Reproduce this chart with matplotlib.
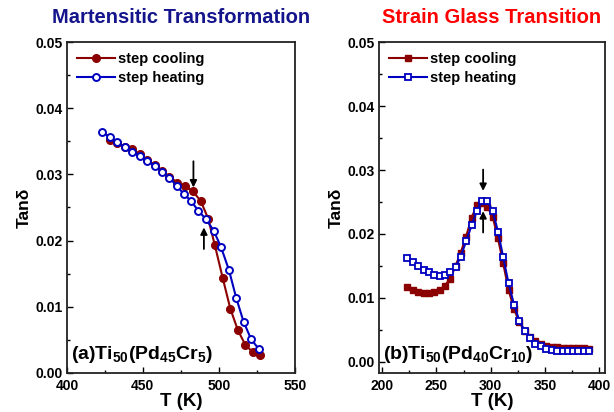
import numpy as np
import matplotlib
matplotlib.use('Agg')
import matplotlib.pyplot as plt
from matplotlib.ticker import MultipleLocator

plt.rcParams['font.family'] = ['Liberation Sans', 'DejaVu Sans']
plt.rcParams['font.weight'] = 'bold'
plt.rcParams['mathtext.fontset'] = 'custom'
plt.rcParams['mathtext.rm'] = 'Liberation Sans:bold'
plt.rcParams['mathtext.bf'] = 'Liberation Sans:bold'
plt.rcParams['mathtext.default'] = 'bf'

# (a) Ti50(Pd45Cr5) -- martensitic transformation
Ta_cool = [428.3, 433.0, 438.0, 442.8, 447.8, 452.8, 457.8, 462.6, 467.4, 472.8,
           477.8, 482.8, 488.0, 493.0, 497.4, 502.6, 507.6, 512.6, 517.4, 522.4, 527.4]
tan_a_cool = [0.03518, 0.03477, 0.03417, 0.03377, 0.03307, 0.03216, 0.03141, 0.03055,
              0.02965, 0.02874, 0.02824, 0.02744, 0.02603, 0.02332, 0.01930, 0.01432,
              0.00970, 0.00643, 0.00427, 0.00312, 0.00266]
Ta_heat = [423.3, 428.3, 433.0, 438.0, 442.8, 447.8, 452.8, 457.8, 462.6, 467.4, 472.2,
           477.0, 482.0, 486.5, 491.7, 496.7, 501.5, 506.7, 511.5, 516.3, 521.3, 526.3]
tan_a_heat = [0.03643, 0.03558, 0.03482, 0.03407, 0.03337, 0.03276, 0.03201, 0.03131,
              0.03040, 0.02950, 0.02829, 0.02704, 0.02593, 0.02447, 0.02322, 0.02146,
              0.01899, 0.01553, 0.01131, 0.00774, 0.00508, 0.00362]

# (b) Ti50(Pd40Cr10) -- strain glass transition
Tb = [223.3, 228.2, 233.3, 238.2, 243.0, 247.9, 253.0, 257.9, 262.7, 267.6, 272.4,
      277.3, 282.4, 287.3, 292.1, 297.0, 301.8, 306.7, 311.5, 316.4, 321.5, 326.4,
      331.2, 336.4, 341.2, 346.1, 351.2, 356.1, 360.9, 366.1, 370.9, 375.8, 380.6,
      385.8, 390.6]
tan_b_cool = [0.01164, 0.01132, 0.01101, 0.01081, 0.01075, 0.01086, 0.01122, 0.01195,
              0.01304, 0.01500, 0.01709, 0.01958, 0.02255, 0.02452, 0.02478, 0.02426,
              0.02270, 0.01930, 0.01540, 0.01127, 0.00826, 0.00618, 0.00488, 0.00390,
              0.00322, 0.00280, 0.00255, 0.00239, 0.00229, 0.00222, 0.00217, 0.00214,
              0.00212, 0.00211, 0.00210]
tan_b_heat = [0.01631, 0.01564, 0.01496, 0.01444, 0.01403, 0.01366, 0.01351, 0.01366,
              0.01408, 0.01481, 0.01647, 0.01886, 0.02135, 0.02364, 0.02514, 0.02514,
              0.02358, 0.02036, 0.01636, 0.01231, 0.00894, 0.00644, 0.00488, 0.00369,
              0.00286, 0.00244, 0.00208, 0.00187, 0.00177, 0.00171, 0.00166, 0.00166,
              0.00166, 0.00166, 0.00166]

red = '#8b0000'
blue = '#0000c0'

fig = plt.figure(figsize=(6.14, 4.12), dpi=100)
axa = fig.add_axes([0.109, 0.095, 0.371, 0.803])
axb = fig.add_axes([0.617, 0.095, 0.368, 0.803])

axa.plot(Ta_cool, tan_a_cool, '-o', color=red, mfc=red, mec=red, ms=5.5, lw=1.5,
         label='step cooling')
axa.plot(Ta_heat, tan_a_heat, '-o', color=blue, mfc='white', mec=blue, mew=1.4, ms=5,
         lw=1.5, label='step heating')
axb.plot(Tb, tan_b_cool, '-s', color=red, mfc=red, mec=red, ms=5, lw=1.5,
         label='step cooling')
axb.plot(Tb, tan_b_heat, '-s', color=blue, mfc='white', mec=blue, mew=1.3, ms=5,
         lw=1.5, label='step heating')

axa.set_xlim(400, 550)
axa.set_ylim(0, 0.05)
axb.set_xlim(197, 405)
axb.set_ylim(-0.0017, 0.05)

axa.xaxis.set_major_locator(MultipleLocator(50))
axa.xaxis.set_minor_locator(MultipleLocator(25))
axb.xaxis.set_major_locator(MultipleLocator(50))
axb.xaxis.set_minor_locator(MultipleLocator(25))
for ax in (axa, axb):
    ax.yaxis.set_major_locator(MultipleLocator(0.01))
    ax.yaxis.set_minor_locator(MultipleLocator(0.005))
    ax.yaxis.set_major_formatter(plt.FormatStrFormatter('%.2f'))
    ax.tick_params(which='both', direction='in', labelsize=10, width=1)
    ax.tick_params(axis='x', pad=4.5)
    ax.tick_params(axis='y', pad=3)
    ax.tick_params(which='major', length=4)
    ax.tick_params(which='minor', length=2.5)
    for s in ax.spines.values():
        s.set_linewidth(1.3)
        s.set_color('#222222')
    ax.set_xlabel('T (K)', fontsize=13.5, fontweight='bold', labelpad=0)
    ax.set_ylabel('Tanδ', fontsize=12.5, fontweight='bold', labelpad=3)
    ax.legend(loc='upper left', frameon=False, fontsize=10.5, handlelength=2.6,
              handletextpad=0.2, borderaxespad=0.3, labelspacing=0.3)

# arrows marking the transition
axa.annotate('', xy=(483.3, 0.0276), xytext=(483.3, 0.0324),
             arrowprops=dict(arrowstyle='-|>', color='black', lw=1.3, mutation_scale=10))
axa.annotate('', xy=(490.2, 0.0224), xytext=(490.2, 0.0183),
             arrowprops=dict(arrowstyle='-|>', color='black', lw=1.3, mutation_scale=10))
axb.annotate('', xy=(293, 0.0263), xytext=(293, 0.0305),
             arrowprops=dict(arrowstyle='-|>', color='black', lw=1.3, mutation_scale=10))
axb.annotate('', xy=(293, 0.0240), xytext=(293, 0.0198),
             arrowprops=dict(arrowstyle='-|>', color='black', lw=1.3, mutation_scale=10))

axa.text(0.02, 0.025, r'(a)Ti$_{50}$(Pd$_{45}$Cr$_{5}$)', transform=axa.transAxes,
         fontsize=14, fontweight='bold', ha='left', va='bottom')
axb.text(0.02, 0.025, r'(b)Ti$_{50}$(Pd$_{40}$Cr$_{10}$)', transform=axb.transAxes,
         fontsize=14, fontweight='bold', ha='left', va='bottom')

fig.text(0.2945, 0.958, 'Martensitic Transformation', color='#14148c', fontsize=14.5,
         fontweight='bold', ha='center', va='center')
fig.text(0.801, 0.958, 'Strain Glass Transition', color='#ff0000', fontsize=14.5,
         fontweight='bold', ha='center', va='center')

fig.savefig('out.png', dpi=100)
